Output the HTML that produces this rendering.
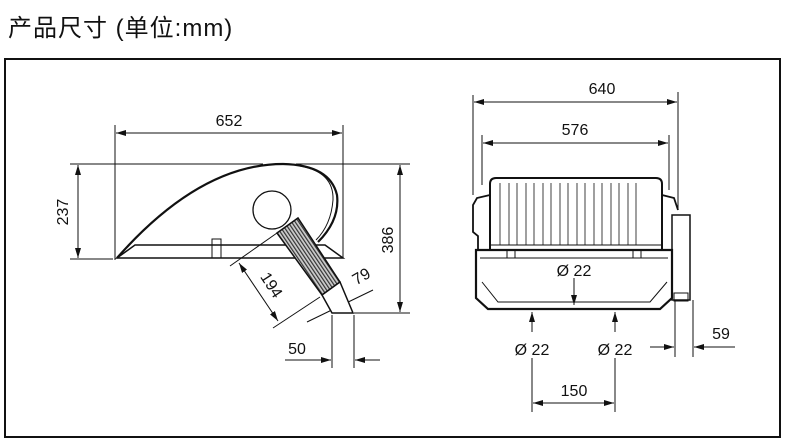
<!DOCTYPE html>
<html><head><meta charset="utf-8"><style>
body{margin:0;background:#fff;width:785px;height:443px;overflow:hidden}
svg{position:absolute;left:0;top:0}
text{font-family:"Liberation Sans","Noto Sans CJK SC",sans-serif;fill:#111}
</style></head><body>
<svg width="785" height="443" viewBox="0 0 785 443">
<defs>
<marker id="a" viewBox="0 0 10 6" refX="10" refY="3" markerWidth="10" markerHeight="6" orient="auto-start-reverse" markerUnits="userSpaceOnUse"><path d="M0,0L10,3L0,6z" fill="#111"/></marker>
<pattern id="h" width="3" height="3" patternUnits="userSpaceOnUse" patternTransform="rotate(-34)"><rect width="3" height="3" fill="#ccc"/><rect width="1.2" height="3" fill="#333"/></pattern>
</defs>
<text x="8" y="36" font-size="24" letter-spacing="1">产品尺寸 (单位:mm)</text>
<rect x="5" y="59" width="775" height="378" fill="none" stroke="#111" stroke-width="2"/>
<g stroke="#111" stroke-width="1" fill="none">
<line x1="115" y1="125" x2="115" y2="260"/><line x1="343" y1="125" x2="343" y2="258"/>
<line x1="116" y1="133" x2="342" y2="133" marker-start="url(#a)" marker-end="url(#a)"/>
<line x1="70" y1="164" x2="263" y2="164"/><line x1="296" y1="164" x2="410" y2="164"/>
<line x1="70" y1="259" x2="113" y2="259"/>
<line x1="78" y1="165" x2="78" y2="258" marker-start="url(#a)" marker-end="url(#a)"/>
<line x1="400" y1="165" x2="400" y2="312" marker-start="url(#a)" marker-end="url(#a)"/>
<line x1="354" y1="313" x2="410" y2="313"/>
<line x1="230" y1="266" x2="277" y2="233"/><line x1="273" y1="328" x2="320" y2="297"/>
<line x1="239" y1="263" x2="278" y2="321" marker-start="url(#a)" marker-end="url(#a)"/>
<line x1="307" y1="322" x2="373" y2="290"/>
<line x1="332" y1="315" x2="332" y2="368"/><line x1="354" y1="315" x2="354" y2="368"/>
<line x1="285" y1="360" x2="331" y2="360" marker-end="url(#a)"/><line x1="380" y1="360" x2="355" y2="360" marker-end="url(#a)"/>
<path d="M117,258 L343,258 L325,245 L135,245 Z" stroke-width="1.5"/>
<path d="M117,258 Q200,164 283,164 Q330,165 337,195 Q340,220 318,242" stroke-width="2.2"/>
<path d="M300,166 Q334,172 333,200 Q331,225 316,240" stroke-width="1"/>
<rect x="212" y="239" width="9" height="19" stroke-width="1"/>
<circle cx="272" cy="210" r="19" stroke-width="1.3"/>
<path d="M277,233 L298,218 L340,282 L322,295 Z" fill="url(#h)" stroke-width="1.5"/>
<path d="M322,295 L340,282 L353,313 L332,313 Z" fill="#fff" stroke-width="1.5"/>
<line x1="473" y1="95" x2="473" y2="195"/><line x1="678" y1="92" x2="678" y2="210"/>
<line x1="474" y1="102" x2="677" y2="102" marker-start="url(#a)" marker-end="url(#a)"/>
<line x1="482" y1="135" x2="482" y2="185"/><line x1="669" y1="135" x2="669" y2="190"/>
<line x1="483" y1="143" x2="668" y2="143" marker-start="url(#a)" marker-end="url(#a)"/>
<line x1="574" y1="278" x2="574" y2="305" marker-end="url(#a)"/>
<line x1="532" y1="332" x2="532" y2="312" marker-end="url(#a)"/>
<line x1="615" y1="332" x2="615" y2="312" marker-end="url(#a)"/>
<line x1="532" y1="358" x2="532" y2="412"/><line x1="615" y1="358" x2="615" y2="412"/>
<line x1="533" y1="403" x2="614" y2="403" marker-start="url(#a)" marker-end="url(#a)"/>
<line x1="675" y1="300" x2="675" y2="357"/><line x1="693" y1="300" x2="693" y2="357"/>
<line x1="650" y1="347" x2="674" y2="347" marker-end="url(#a)"/><line x1="735" y1="347" x2="694" y2="347" marker-end="url(#a)"/>
<path d="M490,250 L490,184 Q490,178 496,178 L656,178 Q662,178 662,184 L662,250" stroke-width="2"/>
<path d="M490,195 L477,198 L473,205 L473,232 L478,236 L478,250" stroke-width="1.8"/>
<path d="M662,195 L674,198 L678,210" stroke-width="1.8"/>
<path d="M476,250 L476,298 L488,309 L660,309 L672,298 L672,250 Z" stroke-width="2.2"/>
<line x1="480" y1="258" x2="668" y2="258"/>
<path d="M482,282 L498,302 L650,302 L667,282" stroke-width="1"/>
<rect x="672" y="215" width="18" height="85" stroke-width="1.5"/>
<rect x="674" y="293" width="14" height="8" stroke-width="1"/>
<rect x="507" y="250" width="8" height="8"/><rect x="633" y="250" width="8" height="8"/>
<path stroke-width="0.8" d="M500,183V245M509,183V245M517,183V245M526,183V245M534,183V245M543,183V245M551,183V245M560,183V245M568,183V245M577,183V245M585,183V245M594,183V245M602,183V245M611,183V245M619,183V245M628,183V245M636,183V245"/>
<line x1="490" y1="245" x2="662" y2="245"/>
</g>
<g font-size="16">
<text x="229" y="126" text-anchor="middle">652</text>
<text x="602" y="94" text-anchor="middle">640</text>
<text x="575" y="135" text-anchor="middle">576</text>
<text x="68" y="212" text-anchor="middle" transform="rotate(-90 68 212)">237</text>
<text x="393" y="240" text-anchor="middle" transform="rotate(-90 393 240)">386</text>
<text x="267" y="288" text-anchor="middle" transform="rotate(57 267 288)">194</text>
<text x="364" y="281" text-anchor="middle" transform="rotate(-30 364 281)">79</text>
<text x="297" y="354" text-anchor="middle">50</text>
<text x="574" y="276" text-anchor="middle">Ø 22</text>
<text x="532" y="355" text-anchor="middle">Ø 22</text>
<text x="615" y="355" text-anchor="middle">Ø 22</text>
<text x="574" y="396" text-anchor="middle">150</text>
<text x="721" y="339" text-anchor="middle">59</text>
</g>
</svg>
</body></html>
